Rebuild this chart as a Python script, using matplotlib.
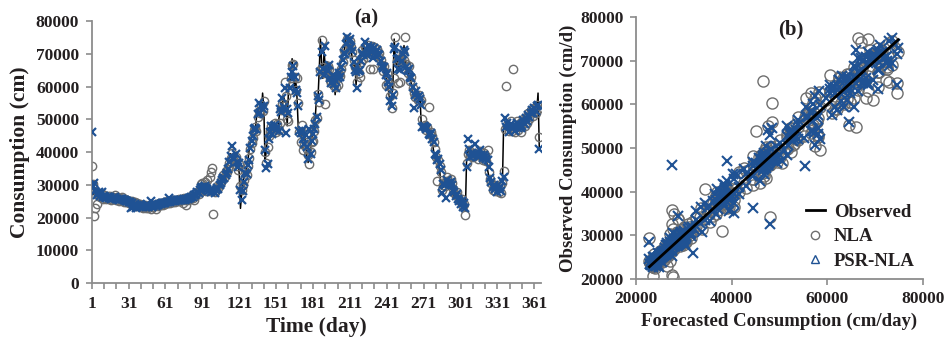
import numpy as np
import matplotlib.pyplot as plt
from matplotlib.lines import Line2D

# daglige verdier, i tusen (cm)
obs = [27.5, 27.0, 27.8, 26.5, 27.2, 28.0, 26.8, 27.5, 26.2, 26.9,
       26.4, 25.8, 26.6, 25.9, 26.3, 25.5, 26.1, 25.7, 26.4, 25.6,
       26.0, 25.2, 25.8, 25.4, 26.2, 25.0, 25.5, 24.8, 25.3, 24.6,
       24.9, 24.2, 24.7, 23.9, 24.4, 23.6, 24.1, 23.5, 23.9, 23.3,
       23.7, 23.2, 23.6, 23.0, 23.4, 23.1, 23.5, 22.9, 23.6, 23.2,
       23.8, 23.4, 24.0, 23.6, 24.2, 23.8, 24.4, 24.0, 24.6, 24.2,
       24.8, 24.4, 25.0, 24.6, 25.2, 24.8, 25.3, 24.9, 25.4, 25.0,
       25.5, 25.1, 25.6, 25.2, 25.8, 25.3, 25.9, 25.5, 26.2, 25.8,
       26.5, 26.1, 26.9, 26.6, 27.3, 27.8, 27.4, 28.2, 28.8, 29.5,
       29.0, 29.8, 28.5, 29.2, 27.8, 28.4, 27.6, 28.8, 28.0, 27.5,
       28.2, 29.0, 28.6, 29.8, 30.5, 31.5, 32.2, 31.8, 32.6, 33.4,
       34.5, 36.8, 38.5, 39.5, 38.2, 37.5, 38.8, 36.5, 35.2, 36.0,
       33.5, 22.8, 27.5, 30.2, 33.8, 32.5, 35.5, 37.2, 40.5, 43.0,
       44.5, 46.5, 47.8, 46.2, 50.5, 52.8, 51.5, 53.8, 52.2, 58.0,
       53.5, 37.0, 40.5, 44.5, 46.8, 47.5, 45.8, 47.2, 48.5, 46.5,
       47.8, 46.2, 49.5, 52.5, 55.2, 53.8, 57.0, 55.5, 55.4, 48.0,
       58.5, 61.5, 63.5, 68.5, 64.0, 58.2, 62.0, 56.5, 47.5, 45.0,
       47.2, 44.5, 41.0, 46.0, 42.5, 38.5, 36.8, 39.0, 41.5, 44.2,
       46.8, 48.0, 51.5, 57.5, 56.0, 64.5, 74.5, 67.0, 62.5, 70.5,
       66.0, 64.5, 67.5, 63.0, 61.5, 64.0, 60.5, 62.8, 57.5, 63.5,
       64.8, 62.5, 66.5, 68.0, 70.5, 69.5, 72.5, 74.8, 73.5, 74.2,
       72.8, 71.5, 68.0, 66.5, 67.2, 60.5, 65.5, 64.0, 68.5, 70.8,
       69.5, 72.5, 71.0, 69.8, 73.5, 70.5, 72.2, 71.5, 69.0, 72.8,
       70.5, 71.8, 69.5, 70.8, 68.5, 67.2, 65.5, 66.8, 63.5, 64.8,
       61.5, 59.8, 57.0, 53.8, 56.5, 61.0, 74.5, 68.5, 66.0, 69.5,
       65.5, 68.0, 70.5, 67.5, 72.5, 66.5, 64.5, 66.0, 62.5, 63.5,
       60.5, 58.5, 57.2, 58.0, 56.5, 57.8, 55.5, 57.0, 48.5, 47.2,
       48.0, 46.5, 47.8, 46.2, 45.0, 46.8, 44.5, 43.0, 40.5, 38.5,
       37.2, 38.0, 36.0, 34.8, 28.8, 30.5, 29.2, 31.5, 32.0, 30.8,
       29.5, 31.2, 30.0, 28.5, 27.2, 26.5, 27.5, 26.0, 25.2, 24.5,
       25.5, 23.8, 24.6, 22.8, 23.5, 39.5, 40.2, 38.5, 39.8, 38.2,
       39.5, 40.5, 39.0, 38.0, 39.2, 40.0, 38.5, 37.8, 39.5, 38.8,
       37.5, 38.2, 34.5, 32.5, 31.0, 29.5, 30.2, 28.8, 29.8, 28.2,
       28.5, 29.8, 28.0, 29.2, 30.0, 48.0, 47.2, 48.5, 46.8, 47.5,
       48.8, 47.0, 48.2, 46.5, 47.8, 49.0, 47.5, 48.5, 46.8, 48.0,
       49.5, 48.2, 50.0, 49.2, 51.0, 50.2, 51.8, 52.5, 51.5, 53.0,
       52.2, 53.5, 52.8, 58.0, 41.5]

nla = [35.8, 30.2, 20.5, 23.0, 24.2, 26.8, 27.6, 26.4, 27.2, 25.8,
       26.9, 26.1, 25.6, 26.7, 25.8, 26.5, 25.4, 26.3, 25.6, 26.8,
       25.5, 26.2, 25.0, 26.0, 25.3, 26.4, 24.8, 25.6, 24.7, 25.5,
       24.5, 25.1, 24.0, 24.9, 23.8, 24.6, 23.4, 24.3, 23.4, 24.0,
       23.2, 23.8, 23.0, 23.7, 22.9, 23.5, 22.8, 23.6, 22.7, 23.7,
       23.1, 23.9, 22.6, 24.1, 23.5, 24.3, 23.7, 24.5, 23.9, 24.7,
       24.2, 24.9, 24.3, 25.1, 24.5, 25.3, 24.6, 25.4, 24.8, 25.5,
       24.9, 25.6, 25.0, 25.7, 24.4, 25.9, 25.2, 23.8, 25.4, 26.3,
       25.7, 26.6, 26.0, 25.2, 26.5, 27.4, 27.9, 27.3, 28.4, 30.2,
       30.5, 29.2, 30.8, 28.2, 31.5, 28.0, 32.5, 33.8, 35.0, 21.0,
       27.8, 28.5, 29.5, 28.9, 30.2, 30.8, 32.0, 33.0, 32.2, 34.2,
       33.8, 34.8, 36.5, 38.2, 39.8, 37.8, 37.2, 38.6, 35.8, 34.5,
       36.2, 29.5, 28.5, 30.0, 31.5, 34.2, 33.0, 35.8, 38.2, 40.8,
       42.8, 44.2, 46.8, 47.5, 46.5, 50.8, 52.5, 51.8, 54.5, 52.5,
       55.5, 40.0, 36.5, 41.5, 44.8, 46.5, 48.0, 46.2, 47.5, 48.8,
       46.0, 48.5, 46.8, 49.0, 52.8, 54.8, 54.2, 61.5, 57.2, 50.2,
       49.5, 59.0, 62.5, 66.5, 67.0, 62.8, 59.0, 62.5, 55.0, 46.0,
       43.2, 48.2, 40.5, 42.0, 45.5, 40.8, 39.0, 36.2, 40.0, 43.0,
       43.5, 46.5, 49.8, 50.5, 57.8, 55.2, 65.0, 74.2, 66.0, 64.0,
       54.8, 65.5, 66.2, 65.5, 62.0, 61.2, 63.0, 60.2, 61.5, 60.0,
       60.5, 63.8, 63.2, 65.5, 67.5, 71.0, 69.8, 72.0, 74.5, 72.8,
       74.0, 72.2, 70.5, 68.2, 66.0, 66.8, 61.5, 64.2, 63.0, 67.5,
       71.0, 68.5, 72.0, 70.2, 69.0, 72.8, 65.5, 71.2, 72.5, 65.2,
       72.0, 70.0, 71.5, 69.2, 70.2, 68.0, 66.5, 64.8, 66.2, 60.5,
       64.2, 61.0, 60.2, 57.0, 53.5, 58.0, 62.5, 75.0, 67.8, 61.0,
       68.5, 61.5, 67.5, 70.2, 68.0, 75.2, 67.0, 64.0, 66.2, 61.8,
       63.0, 59.5, 58.0, 56.8, 57.5, 56.0, 57.5, 55.2, 56.0, 50.2,
       47.5, 48.2, 46.8, 47.5, 53.8, 45.5, 46.2, 44.8, 43.2, 40.8,
       38.5, 31.0, 37.5, 35.8, 33.8, 28.5, 30.0, 29.5, 31.2, 32.5,
       31.0, 30.0, 31.8, 30.5, 28.8, 27.5, 26.8, 27.8, 26.2, 25.5,
       24.8, 25.8, 23.5, 24.2, 20.7, 36.5, 39.5, 40.5, 38.8, 39.2,
       38.5, 39.8, 40.8, 39.2, 38.0, 39.5, 40.2, 38.8, 37.5, 39.8,
       39.0, 37.2, 40.5, 34.0, 31.8, 30.5, 28.5, 29.8, 28.2, 29.5,
       28.8, 27.8, 29.5, 27.5, 30.5, 34.2, 47.0, 60.2, 48.2, 46.5,
       47.2, 49.5, 46.5, 65.3, 46.2, 47.5, 49.5, 46.8, 48.8, 46.0,
       48.5, 50.2, 48.0, 50.5, 49.0, 51.8, 50.0, 52.8, 53.2, 51.0,
       53.5, 52.0, 54.5, 53.0, 44.5]

psr = [46.2, 29.5, 30.5, 28.2, 26.8, 27.5, 27.9, 26.6, 27.8, 26.4,
       26.7, 26.2, 25.9, 26.4, 26.0, 26.2, 25.7, 26.0, 25.9, 26.2,
       25.8, 25.7, 25.4, 25.6, 25.6, 25.8, 25.2, 25.2, 25.0, 25.1,
       24.8, 24.7, 22.8, 24.3, 23.2, 24.2, 22.9, 23.8, 23.6, 23.7,
       23.5, 23.4, 23.2, 23.4, 23.1, 24.2, 23.3, 23.4, 25.0, 23.3,
       23.4, 23.7, 23.6, 23.9, 23.8, 24.1, 24.0, 24.3, 24.3, 24.5,
       24.4, 24.7, 24.6, 25.9, 24.8, 25.0, 25.0, 25.2, 25.1, 25.3,
       25.2, 25.4, 25.3, 25.5, 25.4, 25.7, 25.5, 25.8, 25.7, 26.0,
       26.0, 26.4, 26.3, 26.8, 26.9, 27.3, 27.7, 27.6, 28.3, 28.9,
       29.4, 29.2, 29.6, 28.9, 28.8, 28.2, 28.3, 27.8, 28.6, 28.0,
       27.6, 28.3, 28.9, 28.8, 29.9, 30.6, 31.4, 32.0, 32.1, 32.9,
       33.6, 34.8, 37.0, 38.8, 41.8, 38.3, 37.8, 39.5, 36.8, 35.5,
       36.5, 28.5, 25.2, 28.0, 30.8, 33.5, 33.2, 36.0, 37.5, 41.2,
       43.5, 45.0, 47.0, 47.2, 47.0, 51.5, 55.0, 52.0, 54.0, 53.2,
       54.2, 40.5, 35.2, 36.2, 44.0, 46.2, 47.8, 45.5, 47.8, 48.2,
       46.8, 47.5, 46.5, 53.0, 52.2, 56.5, 53.8, 59.5, 45.8, 53.0,
       52.0, 59.5, 62.8, 64.5, 66.2, 63.0, 58.8, 58.0, 54.2, 46.5,
       45.8, 46.8, 44.0, 42.5, 45.2, 41.5, 38.0, 47.0, 39.5, 43.5,
       45.5, 47.0, 48.5, 50.8, 57.0, 56.0, 64.5, 70.5, 65.5, 63.5,
       72.5, 65.0, 64.8, 66.5, 62.5, 61.0, 63.5, 60.8, 62.0, 59.5,
       62.5, 64.0, 63.0, 66.0, 68.2, 70.2, 70.0, 73.0, 75.2, 73.8,
       74.5, 72.0, 70.8, 67.5, 65.0, 64.5, 59.5, 64.8, 65.0, 67.8,
       70.2, 69.5, 73.5, 71.5, 69.5, 72.5, 70.8, 72.0, 70.5, 68.8,
       71.8, 70.5, 71.2, 69.8, 69.5, 67.8, 66.2, 65.8, 66.0, 63.5,
       64.0, 61.5, 60.0, 55.5, 54.0, 57.5, 71.5, 72.0, 68.5, 65.5,
       68.8, 65.0, 67.8, 70.0, 71.0, 70.5, 66.0, 64.8, 65.5, 62.8,
       62.5, 59.8, 53.5, 57.5, 58.5, 56.8, 57.0, 56.2, 54.5, 47.5,
       47.8, 47.5, 47.0, 47.2, 45.5, 45.2, 45.8, 44.0, 43.0, 39.5,
       39.0, 37.5, 37.8, 36.2, 34.5, 27.5, 30.2, 29.8, 26.0, 31.5,
       30.5, 30.2, 30.8, 29.8, 28.5, 27.8, 26.5, 27.2, 25.8, 25.0,
       24.0, 25.0, 23.2, 24.5, 22.8, 35.5, 44.0, 40.8, 38.5, 39.8,
       38.8, 39.5, 42.5, 39.5, 38.5, 39.0, 40.5, 39.0, 38.2, 39.2,
       38.5, 37.8, 37.5, 35.5, 32.0, 30.8, 29.2, 30.0, 28.8, 29.2,
       27.8, 28.8, 29.2, 28.2, 31.0, 32.5, 50.5, 47.5, 48.8, 46.2,
       47.8, 48.5, 47.2, 48.0, 46.5, 47.8, 48.8, 47.2, 48.2, 47.2,
       48.0, 49.8, 48.5, 50.5, 49.5, 51.2, 50.8, 52.0, 52.8, 52.0,
       53.5, 52.5, 54.0, 54.5, 41.0]

obs = np.array(obs) * 1000
nla = np.array(nla) * 1000
psr = np.array(psr) * 1000
days = np.arange(1, len(obs) + 1)

blue = '#1f5294'
grey = '#6e6e6e'
axcol = '#8c8c8c'
txt = '#231f20'

plt.rcParams['font.family'] = ['Liberation Serif', 'DejaVu Serif']
plt.rcParams['font.weight'] = 'bold'

fig = plt.figure(figsize=(9.51, 3.43), dpi=100)

def style(ax):
    for s in ['top', 'right']:
        ax.spines[s].set_visible(False)
    for s in ['left', 'bottom']:
        ax.spines[s].set_color(axcol)
        ax.spines[s].set_linewidth(1.3)
    ax.tick_params(which='both', color=axcol, width=1.2, length=4,
                   labelsize=12.5, labelcolor=txt, pad=5)
    for lab in ax.get_xticklabels() + ax.get_yticklabels():
        lab.set_fontweight('bold')

# (a) tidsserie
ax1 = fig.add_axes([0.0964, 0.1749, 0.4726, 0.7638])
ax1.plot(days, obs, '-', color='black', lw=1.1, zorder=1)
ax1.plot(days, nla, 'o', mfc='none', mec=grey, ms=6, mew=1.0, zorder=2)
ax1.plot(days, psr, 'x', color=blue, ms=6, mew=1.6, zorder=3)
ax1.set_xlim(1, 366.5)
ax1.set_ylim(0, 80000)
ax1.set_xticks(np.arange(1, 366, 30))
ax1.set_xticks(np.arange(1, 366, 10), minor=True)
ax1.set_yticks(np.arange(0, 80001, 10000))
style(ax1)
ax1.set_xlabel('Time (day)', fontsize=15.5, fontweight='bold', color=txt, labelpad=4)
ax1.set_ylabel('Consumption (cm)', fontsize=15.5, fontweight='bold', color=txt, labelpad=4)
ax1.set_title('(a)', fontsize=15, fontweight='bold', color=txt, x=0.61, y=0.96)

# (b) spredningsplott
ax2 = fig.add_axes([0.6688, 0.1866, 0.3018, 0.7638])
ax2.plot(obs, nla, 'o', mfc='none', mec=grey, ms=8, mew=1.0, zorder=2)
ax2.plot(obs, psr, 'x', color=blue, ms=6.5, mew=1.5, zorder=3)
so = np.sort(obs)
ax2.plot(so, so, '-', color='black', lw=2, zorder=4)
ax2.set_xlim(20000, 80000)
ax2.set_ylim(20000, 80000)
ax2.set_xticks(np.arange(20000, 80001, 20000))
ax2.set_yticks(np.arange(20000, 80001, 10000))
style(ax2)
ax2.set_xlabel('Forecasted Consumption (cm/day)', fontsize=13.5, fontweight='bold', color=txt, labelpad=4)
ax2.set_ylabel('Observed Consumption (cm/d)', fontsize=13.5, fontweight='bold', color=txt, labelpad=2)
ax2.set_title('(b)', fontsize=15, fontweight='bold', color=txt, x=0.54, y=0.9)

handles = [Line2D([], [], color='black', lw=2),
           Line2D([], [], ls='none', marker='o', mfc='none', mec=grey, ms=6),
           Line2D([], [], ls='none', marker='^', mfc='none', mec=blue, ms=6)]
leg = ax2.legend(handles, ['Observed', 'NLA', 'PSR-NLA'], loc='lower right',
                 bbox_to_anchor=(1.03, -0.03), frameon=False, fontsize=13.5,
                 handlelength=1.0, handletextpad=0.5, labelspacing=0.4)
for t in leg.get_texts():
    t.set_color(txt)
    t.set_fontweight('bold')

fig.savefig('out.png', dpi=100)
